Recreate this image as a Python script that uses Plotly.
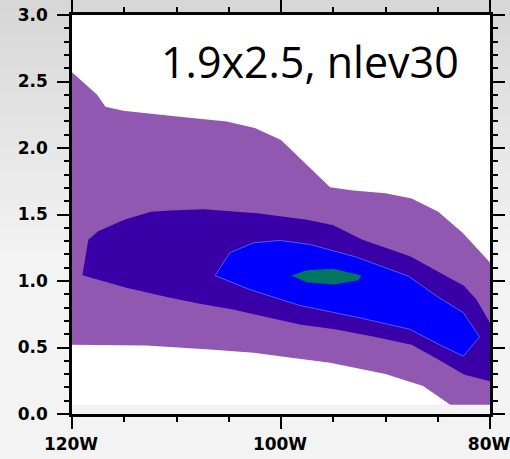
import plotly.graph_objects as go

# Longitude (degrees east, negative = W) and height (km) outlines of each
# filled contour band.
LON_TICKS = [-120, -100, -80]
LON_LABELS = ["120W", "100W", "80W"]

MODEL_BOTTOM = 0.07
MODEL_TOP = 3.0

# band 1 (outermost, light purple)
LEVEL1_LON = [-120.0, -117.6, -116.8, -115.1, -109.7, -105.2, -102.5, -100.0,
              -95.3, -93.1, -90.0, -87.5, -84.95, -82.6, -80.0,
              -80.0, -83.8, -86.4, -90.0, -95.3, -100.1, -102.6, -106.8,
              -112.9, -120.0]
LEVEL1_HGT = [2.57, 2.40, 2.31, 2.28, 2.235, 2.20, 2.15, 2.06,
              1.705, 1.68, 1.66, 1.62, 1.52, 1.36, 1.14,
              0.07, 0.07, 0.21, 0.30, 0.385, 0.435, 0.46, 0.485,
              0.515, 0.52]

# band 2 (dark purple)
LEVEL2_LON = [-119.0, -118.44, -117.5, -115.0, -112.45, -110.6, -107.4, -102.3,
              -97.5, -95.0, -92.2, -90.0, -87.6, -84.95, -82.5, -81.3, -80.0,
              -80.0, -82.5, -84.95, -87.5, -91.2, -94.7, -98.2, -102.6,
              -104.6, -107.9, -110.6, -114.8]
LEVEL2_HGT = [1.044, 1.31, 1.375, 1.46, 1.52, 1.53, 1.54, 1.51,
              1.46, 1.42, 1.31, 1.25, 1.185, 1.07, 0.965, 0.86, 0.686,
              0.247, 0.297, 0.41, 0.52, 0.583, 0.635, 0.673, 0.748,
              0.786, 0.83, 0.874, 0.949]

# band 3 (blue)
LEVEL3_LON = [-106.3, -104.9, -102.65, -100.1, -97.2, -92.8, -87.8, -85.1,
              -82.55, -81.0, -82.55, -84.8, -87.7, -92.4, -98.2, -103.0]
LEVEL3_HGT = [1.041, 1.212, 1.287, 1.305, 1.274, 1.18, 1.036, 0.886,
              0.761, 0.58, 0.435, 0.52, 0.638, 0.722, 0.816, 0.936]

# band 4 (core, green)
LEVEL4_LON = [-99.0, -97.55, -95.0, -92.3, -92.6, -95.0, -97.55]
LEVEL4_HGT = [1.041, 1.081, 1.092, 1.041, 1.006, 0.974, 0.991]

BAND_COLORS = ["#9058b0", "#3a00a8", "#0000ff", "#007560"]
BAND_EDGES = [None, None, "rgba(90,130,255,0.9)", None]

fig = go.Figure()

# defined-data region of the model grid
fig.add_trace(go.Scatter(
    x=[LON_TICKS[0], LON_TICKS[-1], LON_TICKS[-1], LON_TICKS[0]],
    y=[MODEL_BOTTOM, MODEL_BOTTOM, MODEL_TOP, MODEL_TOP],
    fill="toself", fillcolor="white", mode="lines",
    line=dict(width=0), hoverinfo="skip", showlegend=False,
))

bands = [(LEVEL1_LON, LEVEL1_HGT), (LEVEL2_LON, LEVEL2_HGT),
         (LEVEL3_LON, LEVEL3_HGT), (LEVEL4_LON, LEVEL4_HGT)]
for (lon, hgt), color, edge in zip(bands, BAND_COLORS, BAND_EDGES):
    fig.add_trace(go.Scatter(
        x=lon + lon[:1], y=hgt + hgt[:1],
        fill="toself", fillcolor=color, mode="lines",
        line=dict(width=0.8 if edge else 0, color=edge or color),
        hoverinfo="skip", showlegend=False,
    ))

# grey backdrop behind the whole figure, darker toward the top
W, H = 510, 459
ML, MR, MT, MB = 72, 20, 15, 45
pw, ph = W - ML - MR, H - MT - MB
n = 40
for i in range(n):
    y0_px, y1_px = i * H / n, (i + 1) * H / n
    f = min(1.0, (y0_px + y1_px) / 2 / 260)
    g = int(round(214 + (243 - 214) * f))
    fig.add_shape(
        type="rect", xref="paper", yref="paper", layer="below",
        x0=-ML / pw - 0.01, x1=(W - ML) / pw + 0.01,
        y0=(H - MB - y1_px) / ph, y1=(H - MB - y0_px) / ph + 0.002,
        fillcolor=f"rgb({g},{g},{g})", line=dict(width=0),
    )

fig.add_annotation(
    text="1.9x2.5, nlev30", xref="paper", yref="paper",
    x=(159 - ML) / pw, y=(H - MB - 61.5) / ph, xanchor="left", yanchor="middle",
    showarrow=False, font=dict(family="Open Sans", size=43, color="black"),
)

tickfont = dict(family="DejaVu Sans", size=17, color="black", weight="bold")
axis_common = dict(
    showgrid=False, zeroline=False, showline=True, linecolor="black",
    linewidth=2.5, mirror="ticks", ticks="outside", ticklen=12,
    tickwidth=2, tickcolor="black", tickfont=tickfont, automargin=False,
    ticklabeloverflow="allow",
)
fig.update_xaxes(
    range=[LON_TICKS[0], LON_TICKS[-1]], tickmode="array",
    tickvals=LON_TICKS, ticktext=LON_LABELS, ticklabelstandoff=1,
    ticklabelshift=-1,
    minor=dict(dtick=5, tick0=-120, ticks="outside", ticklen=5,
               tickwidth=1.5, tickcolor="black"),
    **axis_common,
)
fig.update_yaxes(
    range=[0, MODEL_TOP], tickmode="linear", tick0=0, dtick=0.5,
    tickformat=".1f", ticklabelstandoff=6,
    minor=dict(dtick=0.1, ticks="outside", ticklen=5,
               tickwidth=1.5, tickcolor="black"),
    **axis_common,
)
fig.update_layout(
    width=W, height=H,
    margin=dict(l=ML, r=MR, t=MT, b=MB, autoexpand=False),
    paper_bgcolor="#e8e8e8", plot_bgcolor="rgba(0,0,0,0)",
    showlegend=False,
)

fig.write_html("out.html")
